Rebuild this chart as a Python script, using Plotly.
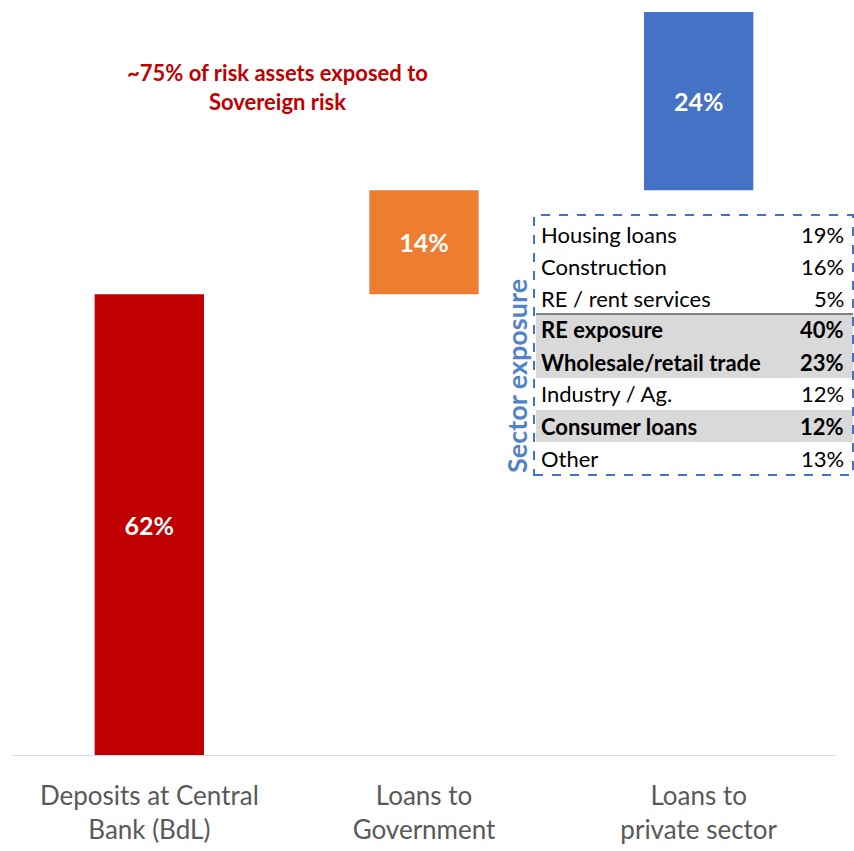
import plotly.graph_objects as go

# Asset composition (waterfall of shares, %)
categories = ["Deposits at Central<br>Bank (BdL)", "Loans to<br>Government", "Loans to<br>private sector"]
shares = [62, 14, 24]
bar_colors = ["#C00000", "#ED7D31", "#4472C4"]

# Sector breakdown of private-sector loans
sector_labels = ["Housing loans", "Construction", "RE / rent services", "RE exposure",
                 "Wholesale/retail trade", "Industry / Ag.", "Consumer loans", "Other"]
sector_values = [19, 16, 5, 40, 23, 12, 12, 13]
sector_bold = [False, False, False, True, True, False, True, False]

headline = "~75% of risk assets exposed to<br>Sovereign risk"

FONT = "Lato"
W, H = 854, 851
ML, MR, MT, MB = 12, 18, 12, 96


def px(x):
    return (x - ML) / (W - ML - MR)


def py(y):
    return (H - MB - y) / (H - MT - MB)


bases = []
running = 0
for v in shares:
    bases.append(running)
    running += v

fig = go.Figure()
fig.add_trace(go.Bar(
    x=list(range(len(categories))),
    y=shares,
    base=bases,
    marker=dict(color=bar_colors, line=dict(width=0)),
    width=0.398,
    text=[f"<b>{v}%</b>" for v in shares],
    textposition="inside",
    insidetextanchor="middle",
    textfont=dict(family=FONT, size=25, color="white"),
    hoverinfo="skip",
))

shapes = []
annotations = []

# Sector table: shaded rows, separator and dashed frame
row_top = 218
row_h = 32
tbl_left, tbl_right = 534, 853
for i, bold in enumerate(sector_bold):
    if bold:
        shapes.append(dict(type="rect", xref="paper", yref="paper",
                           x0=px(tbl_left + 2), x1=px(tbl_right),
                           y0=py(row_top + row_h * (i + 1)), y1=py(row_top + row_h * i),
                           fillcolor="#D9D9D9", line=dict(width=0), layer="below"))
shapes.append(dict(type="line", xref="paper", yref="paper",
                   x0=px(tbl_left + 2), x1=px(tbl_right),
                   y0=py(row_top + row_h * 3), y1=py(row_top + row_h * 3),
                   line=dict(color="#808080", width=2)))
shapes.append(dict(type="rect", xref="paper", yref="paper",
                   x0=px(tbl_left), x1=px(tbl_right),
                   y0=py(475), y1=py(215),
                   line=dict(color="#4472C4", width=2, dash="dash"),
                   fillcolor="rgba(0,0,0,0)"))

for i, (lab, val, bold) in enumerate(zip(sector_labels, sector_values, sector_bold)):
    yc = py(row_top + row_h * i + row_h / 2)
    lt = f"<b>{lab}</b>" if bold else lab
    vt = f"<b>{val}%</b>" if bold else f"{val}%"
    annotations.append(dict(xref="paper", yref="paper", x=px(539), y=yc,
                            text=lt, showarrow=False, xanchor="left", yanchor="middle",
                            font=dict(family=FONT, size=22, color="#000000")))
    annotations.append(dict(xref="paper", yref="paper", x=px(846), y=yc,
                            text=vt, showarrow=False, xanchor="right", yanchor="middle",
                            font=dict(family=FONT, size=22, color="#000000")))

annotations.append(dict(xref="paper", yref="paper", x=px(516), y=py(376),
                        text="<b>Sector exposure</b>", showarrow=False, textangle=-90,
                        xanchor="center", yanchor="middle",
                        font=dict(family=FONT, size=27, color="#5383C6")))

annotations.append(dict(xref="paper", yref="paper", x=px(277), y=py(87),
                        text=f"<b>{headline}</b>", showarrow=False,
                        xanchor="center", yanchor="middle",
                        font=dict(family=FONT, size=22, color="#C00000")))

fig.update_layout(
    width=W, height=H,
    margin=dict(l=ML, r=MR, t=MT, b=MB, autoexpand=False),
    paper_bgcolor="white", plot_bgcolor="white",
    showlegend=False,
    shapes=shapes,
    annotations=annotations,
    xaxis=dict(tickmode="array", tickvals=list(range(len(categories))), ticktext=categories,
               range=[-0.5, 2.5], showgrid=False, zeroline=False, automargin=False,
               showline=True, linecolor="#D9D9D9", linewidth=1, ticks="",
               ticklabelstandoff=18,
               tickfont=dict(family=FONT, size=26, color="#595959")),
    yaxis=dict(range=[0, 100], visible=False, showgrid=False, zeroline=False),
    font=dict(family=FONT),
)

fig.write_html("out.html")
